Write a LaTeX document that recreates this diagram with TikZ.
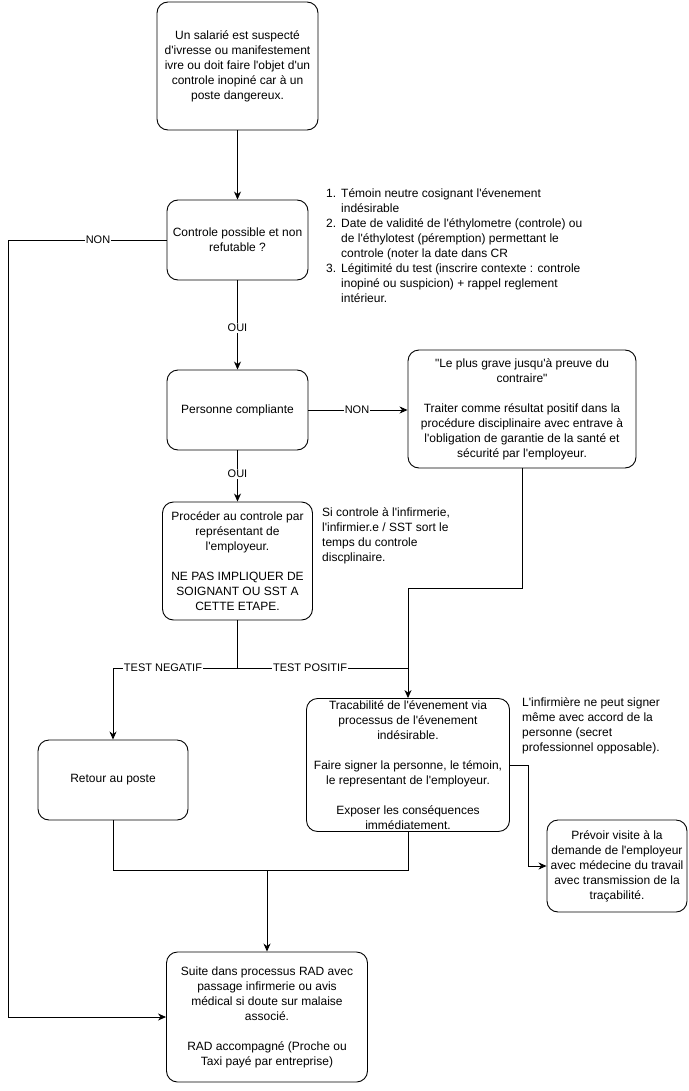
\documentclass[tikz,border=0pt]{standalone}
\usepackage{fontspec}
\setmainfont{Liberation Sans}[Ligatures=TeXOff]
\usetikzlibrary{arrows.meta}
\begin{document}
\begin{tikzpicture}[x=1pt,y=-1pt,
  box/.style={draw, rounded corners=11pt, line width=0.9pt, align=center, inner sep=2pt,
    font=\fontsize{12pt}{15pt}\selectfont},
  lab/.style={fill=white, inner sep=1pt, font=\fontsize{11pt}{13pt}\selectfont},
  note/.style={align=left, anchor=north west, inner sep=0pt, font=\fontsize{12pt}{15pt}\selectfont},
  arr/.style={-{Stealth[length=8pt,width=7pt,inset=2.5pt]}, line width=0.9pt},
  ln/.style={line width=0.9pt}]
\useasboundingbox (0,0) rectangle (688,1091);

% boxes
\node[box, minimum width=161pt, minimum height=128pt] (n1) at (237.5,66)
 {Un salarié est suspecté\\d'ivresse ou manifestement\\ivre ou doit faire l'objet d'un\\controle inopiné car à un\\poste dangereux.};
\node[box, minimum width=141pt, minimum height=80pt] (n2) at (237.5,240)
 {Controle possible et non\\refutable ?};
\node[box, minimum width=141pt, minimum height=80pt] (n3) at (237.5,410)
 {Personne compliante};
\node[box, minimum width=228pt, minimum height=118pt] (n4) at (522,409)
 {"Le plus grave jusqu'à preuve du\\contraire"\\[15pt]Traiter comme résultat positif dans la\\procédure disciplinaire avec entrave à\\l'obligation de garantie de la santé et\\sécurité par l'employeur.};
\node[box, minimum width=150pt, minimum height=118pt] (n5) at (237.5,561)
 {Procéder au controle par\\représentant de\\l'employeur.\\[15pt]NE PAS IMPLIQUER DE\\SOIGNANT OU SST A\\CETTE ETAPE.};
\node[box, minimum width=150pt, minimum height=80pt] (n6) at (113,780)
 {Retour au poste};
\node[box, minimum width=203pt, minimum height=130pt] (n7) at (408,765)
 {Tracabilité de l'évenement via\\processus de l'évenement\\indésirable.\\[15pt]Faire signer la personne, le témoin,\\le representant de l'employeur.\\[15pt]Exposer les conséquences\\immédiatement.};
\node[box, minimum width=140pt, minimum height=92pt] (n8) at (617,866)
 {Prévoir visite à la\\demande de l'employeur\\avec médecine du travail\\avec transmission de la\\traçabilité.};
\node[box, minimum width=201pt, minimum height=130pt] (n9) at (267,1017)
 {Suite dans processus RAD avec\\passage infirmerie ou avis\\médical si doute sur malaise\\associé.\\[15pt]RAD accompagné (Proche ou\\Taxi payé par entreprise)};

% notes
\node[note] (t1) at (326,187) {\begin{tabular}{@{}l@{\hspace{5pt}}l@{}}
1. & Témoin neutre cosignant l'évenement\\
   & indésirable\\
2. & Date de validité de l'éthylometre (controle) ou\\
   & de l'éthylotest (péremption) permettant le\\
   & controle (noter la date dans CR\\
3. & Légitimité du test (inscrire contexte : controle\\
   & inopiné ou suspicion) + rappel reglement\\
   & intérieur.
\end{tabular}};
\node[note] (t2) at (322,507) {Si controle à l'infirmerie,\\l'infirmier.e / SST sort le\\temps du controle\\discplinaire.};
\node[note] (t3) at (522,697) {L'infirmière ne peut signer\\même avec accord de la\\personne (secret\\professionnel opposable).};

% coordinates
\coordinate (cL) at (8,240);
\coordinate (jA) at (237.5,668);
\coordinate (kR) at (408,588);
\coordinate (jB) at (267,870);
\coordinate (kT) at (528,765);

% connectors
\draw[arr] (n1.south) -- (n2.north);
\draw[arr] (n2.west) -- (cL) |- (n9.west);
\draw[arr] (n2.south) -- (n3.north);
\draw[arr] (n3.east) -- (n4.west |- n3.east);
\draw[arr] (n3.south) -- (n5.north);
\draw[ln] (n5.south) -- (jA);
\draw[arr] (jA) -| (n6.north);
\draw[arr] (jA) -| (n7.north);
\draw[ln] (n4.south) |- (kR);
\draw[ln] (kR) -- (kR |- jA);
\draw[ln] (n6.south) |- (jB);
\draw[ln] (n7.south) |- (jB);
\draw[arr] (jB) -- (n9.north);
\draw[arr] (n7.east) -- (kT) |- (n8.west);

% labels
\node[lab] (l1) at (98,240) {NON};
\node[lab] (l2) at (237.5,328) {OUI};
\node[lab] (l3) at (357,410) {NON};
\node[lab] (l4) at (237.5,474) {OUI};
\node[lab] (l5) at (163,668) {TEST NEGATIF};
\node[lab] (l6) at (310,668) {TEST POSITIF};
\end{tikzpicture}
\end{document}
